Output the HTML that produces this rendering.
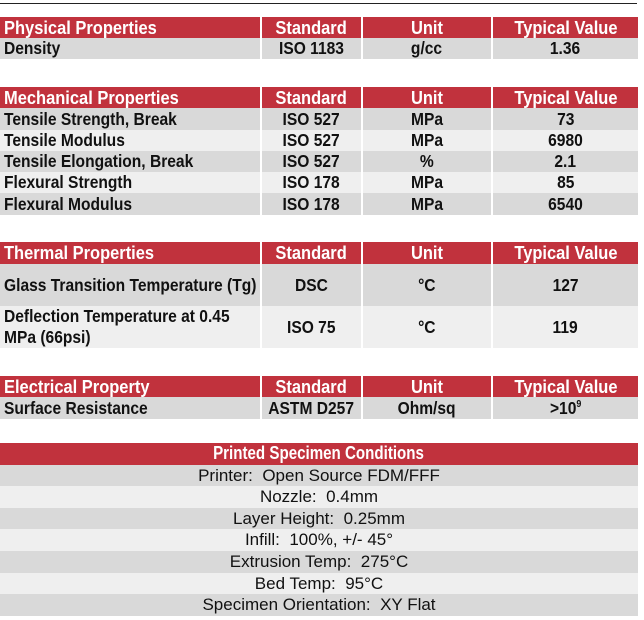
<!DOCTYPE html>
<html><head><meta charset="utf-8"><style>
*{margin:0;padding:0;box-sizing:border-box}
body{width:644px;height:620px;background:#fff;position:relative;overflow:hidden;font-family:"Liberation Sans",sans-serif}
.r{position:absolute;left:0;width:638px;display:flex}
.r>div{display:flex;align-items:center;font-weight:bold;font-size:17.5px;color:#111;border-right:2px solid #fff;white-space:nowrap}
.r>div:last-child{border-right:none}
.r>div>span{display:inline-block;transform:scaleX(0.89)}
.c1{width:262px;padding-left:4px}
.c1>span{transform-origin:left center}
.c2{width:101px;justify-content:center}
.c3{width:130px;justify-content:center}
.c4{width:145px;justify-content:center}
.h{background:#c1323d}
.h>div{color:#fff;font-size:18.5px}
.g{background:#d9d9d9}
.l{background:#efefef}
.p{position:absolute;left:0;width:638px;text-align:center;font-family:"Liberation Sans",sans-serif;font-size:17px;color:#111;line-height:21.6px;height:21.6px}
</style></head><body>
<div style="position:absolute;left:0;top:3px;width:637px;height:1px;background:#222"></div>

<div class="r h" style="top:17px;height:21px"><div class="c1"><span>Physical Properties</span></div><div class="c2"><span>Standard</span></div><div class="c3"><span>Unit</span></div><div class="c4"><span>Typical Value</span></div></div>
<div class="r g" style="top:38px;height:21px"><div class="c1"><span>Density</span></div><div class="c2"><span>ISO 1183</span></div><div class="c3"><span>g/cc</span></div><div class="c4"><span>1.36</span></div></div>

<div class="r h" style="top:87px;height:21px"><div class="c1"><span>Mechanical Properties</span></div><div class="c2"><span>Standard</span></div><div class="c3"><span>Unit</span></div><div class="c4"><span>Typical Value</span></div></div>
<div class="r g" style="top:108px;height:22px"><div class="c1"><span>Tensile Strength, Break</span></div><div class="c2"><span>ISO 527</span></div><div class="c3"><span>MPa</span></div><div class="c4"><span>73</span></div></div>
<div class="r l" style="top:130px;height:21px"><div class="c1"><span>Tensile Modulus</span></div><div class="c2"><span>ISO 527</span></div><div class="c3"><span>MPa</span></div><div class="c4"><span>6980</span></div></div>
<div class="r g" style="top:151px;height:21px"><div class="c1"><span>Tensile Elongation, Break</span></div><div class="c2"><span>ISO 527</span></div><div class="c3"><span>%</span></div><div class="c4"><span>2.1</span></div></div>
<div class="r l" style="top:172px;height:21px"><div class="c1"><span>Flexural Strength</span></div><div class="c2"><span>ISO 178</span></div><div class="c3"><span>MPa</span></div><div class="c4"><span>85</span></div></div>
<div class="r g" style="top:193px;height:22px"><div class="c1"><span>Flexural Modulus</span></div><div class="c2"><span>ISO 178</span></div><div class="c3"><span>MPa</span></div><div class="c4"><span>6540</span></div></div>

<div class="r h" style="top:242px;height:22px"><div class="c1"><span>Thermal Properties</span></div><div class="c2"><span>Standard</span></div><div class="c3"><span>Unit</span></div><div class="c4"><span>Typical Value</span></div></div>
<div class="r g" style="top:264px;height:42px"><div class="c1"><span>Glass Transition Temperature (Tg)</span></div><div class="c2"><span>DSC</span></div><div class="c3"><span>°C</span></div><div class="c4"><span>127</span></div></div>
<div class="r l" style="top:306px;height:42px"><div class="c1"><span style="line-height:21px">Deflection Temperature at 0.45<br>MPa (66psi)</span></div><div class="c2"><span>ISO 75</span></div><div class="c3"><span>°C</span></div><div class="c4"><span>119</span></div></div>

<div class="r h" style="top:376px;height:21px"><div class="c1"><span>Electrical Property</span></div><div class="c2"><span>Standard</span></div><div class="c3"><span>Unit</span></div><div class="c4"><span>Typical Value</span></div></div>
<div class="r g" style="top:397px;height:22px"><div class="c1"><span>Surface Resistance</span></div><div class="c2"><span>ASTM D257</span></div><div class="c3"><span>Ohm/sq</span></div><div class="c4"><span>&gt;10<span style="font-size:10px;position:relative;top:-7px">9</span></span></div></div>

<div class="p h" style="top:443px;color:#fff;font-weight:bold;font-size:18px"><span style="display:inline-block;transform:scaleX(0.84)">Printed Specimen Conditions</span></div>
<div class="p g" style="top:464.6px">Printer:&nbsp; Open Source FDM/FFF</div>
<div class="p l" style="top:486.2px">Nozzle:&nbsp; 0.4mm</div>
<div class="p g" style="top:507.8px">Layer Height:&nbsp; 0.25mm</div>
<div class="p l" style="top:529.4px">Infill:&nbsp; 100%, +/- 45°</div>
<div class="p g" style="top:551px">Extrusion Temp:&nbsp; 275°C</div>
<div class="p l" style="top:572.6px">Bed Temp:&nbsp; 95°C</div>
<div class="p g" style="top:594.2px">Specimen Orientation:&nbsp; XY Flat</div>
</body></html>
